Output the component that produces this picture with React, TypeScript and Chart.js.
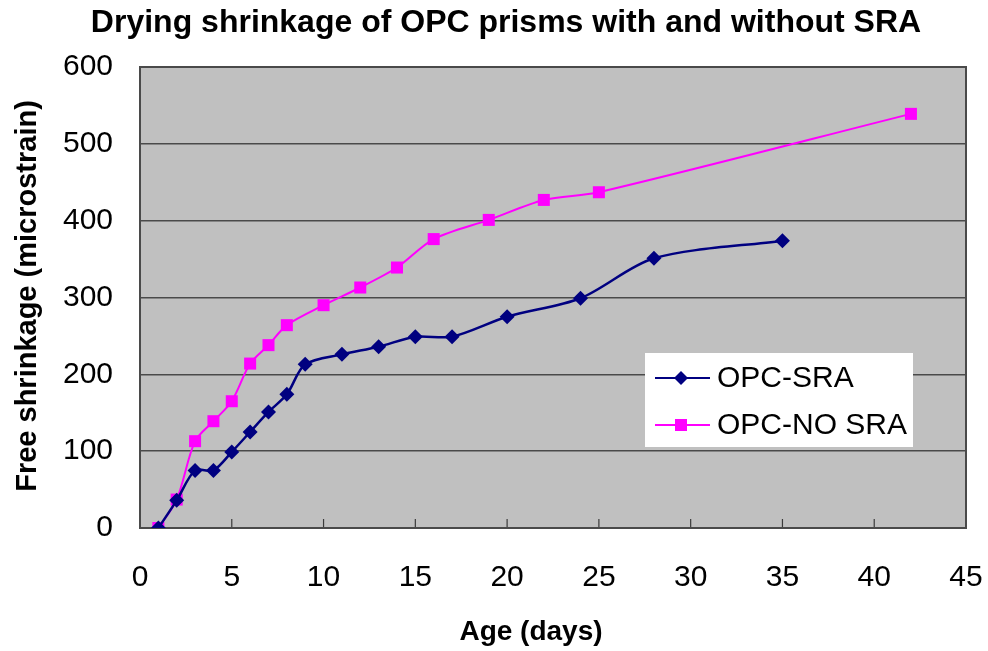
import React, { useEffect, useRef } from "react";
import { Chart, registerables } from "chart.js";

Chart.register(...registerables);

const sraDays = [1, 2, 3, 4, 5, 6, 7, 8, 9, 11, 13, 15, 17, 20, 24, 28, 35];
const sraValues = [0, 36, 75, 75, 99, 125, 151, 174, 213, 226, 236, 249, 249, 275, 299, 351, 374];

const noSraDays = [1, 2, 3, 4, 5, 6, 7, 8, 10, 12, 14, 16, 19, 22, 25, 42];
const noSraValues = [0, 37, 113, 139, 165, 214, 238, 264, 290, 313, 339, 376, 401, 427, 437, 539];

const xTicks = [0, 5, 10, 15, 20, 25, 30, 35, 40, 45];
const yTicks = [0, 100, 200, 300, 400, 500, 600];

const seriesNames = ["OPC-SRA", "OPC-NO SRA"];
const titleText = "Drying shrinkage of OPC prisms with and without SRA";
const xTitle = "Age (days)";
const yTitle = "Free shrinkage (microstrain)";

const NAVY = "#000080";
const MAGENTA = "#FF00FF";
const FONT = "'Liberation Sans', Arial, sans-serif";

const decorPlugin = {
  id: "decor",
  beforeDatasetsDraw(chart: any) {
    const { ctx, chartArea: a, scales } = chart;
    ctx.save();
    ctx.strokeStyle = "#3a3a3a";
    ctx.lineWidth = 1.2;
    xTicks.forEach((t) => {
      const x = scales.x.getPixelForValue(t);
      ctx.beginPath();
      ctx.moveTo(x, a.bottom);
      ctx.lineTo(x, a.bottom - 9);
      ctx.stroke();
    });
    ctx.strokeStyle = "#4a4a4a";
    ctx.lineWidth = 2;
    ctx.strokeRect(a.left, a.top, a.right - a.left, a.bottom - a.top);
    ctx.restore();
  },
  afterDraw(chart: any) {
    const { ctx } = chart;
    ctx.save();
    ctx.fillStyle = "#000";
    ctx.textAlign = "center";
    ctx.textBaseline = "middle";
    ctx.font = `bold 32px ${FONT}`;
    ctx.fillText(titleText, 506, 23);
    ctx.font = `bold 28px ${FONT}`;
    ctx.fillText(xTitle, 531, 632);
    ctx.save();
    ctx.translate(28, 296);
    ctx.rotate(-Math.PI / 2);
    ctx.font = `bold 29px ${FONT}`;
    ctx.fillText(yTitle, 0, 0);
    ctx.restore();

    // legend
    const lx = 645, ly = 353, lw = 268, lh = 94;
    ctx.fillStyle = "#fff";
    ctx.fillRect(lx, ly, lw, lh);
    const rows = [
      { name: seriesNames[0], color: NAVY, y: 378, shape: "diamond" },
      { name: seriesNames[1], color: MAGENTA, y: 425, shape: "square" },
    ];
    rows.forEach((r) => {
      ctx.strokeStyle = r.color;
      ctx.lineWidth = 2;
      ctx.beginPath();
      ctx.moveTo(655, r.y);
      ctx.lineTo(710, r.y);
      ctx.stroke();
      ctx.fillStyle = r.color;
      ctx.beginPath();
      if (r.shape === "diamond") {
        ctx.moveTo(681, r.y - 7);
        ctx.lineTo(688, r.y);
        ctx.lineTo(681, r.y + 7);
        ctx.lineTo(674, r.y);
        ctx.closePath();
      } else {
        ctx.rect(675, r.y - 6, 12, 12);
      }
      ctx.fill();
      ctx.fillStyle = "#000";
      ctx.textAlign = "left";
      ctx.font = `30px ${FONT}`;
      ctx.fillText(r.name, 717, r.y + 1);
    });
    ctx.restore();
  },
};

const bgPlugin = {
  id: "plotbg",
  beforeDraw(chart: any) {
    const { ctx, chartArea: a } = chart;
    ctx.save();
    ctx.fillStyle = "#ffffff";
    ctx.fillRect(0, 0, chart.width, chart.height);
    ctx.fillStyle = "#C0C0C0";
    ctx.fillRect(a.left, a.top, a.right - a.left, a.bottom - a.top);
    ctx.restore();
  },
};

export default function App() {
  const ref = useRef<HTMLCanvasElement | null>(null);
  useEffect(() => {
    document.body.style.margin = "0";
    const canvas = ref.current;
    if (!canvas) return;
    const chart = new Chart(canvas, {
      type: "line",
      data: {
        datasets: [
          {
            label: seriesNames[0],
            data: sraDays.map((d, i) => ({ x: d, y: sraValues[i] })),
            borderColor: NAVY,
            backgroundColor: NAVY,
            borderWidth: 2.5,
            pointStyle: "rectRot",
            pointRadius: 7.5,
            pointBorderWidth: 0,
            tension: 0.3,
            order: 1,
          },
          {
            label: seriesNames[1],
            data: noSraDays.map((d, i) => ({ x: d, y: noSraValues[i] })),
            borderColor: MAGENTA,
            backgroundColor: MAGENTA,
            borderWidth: 2,
            pointStyle: "rect",
            pointRadius: 8.5,
            pointBorderWidth: 0,
            tension: 0.3,
            order: 2,
          },
        ],
      },
      options: {
        responsive: false,
        animation: false,
        layout: { padding: { top: 67, right: 22, left: 0, bottom: 0 } },
        plugins: {
          legend: { display: false },
          title: { display: false },
          tooltip: { enabled: false },
        },
        scales: {
          x: {
            type: "linear",
            min: 0,
            max: 45,
            afterBuildTicks: (s: any) => {
              s.ticks = xTicks.map((v) => ({ value: v }));
            },
            afterFit: (s: any) => {
              s.height = 651 - 528;
              s.paddingLeft = 0;
              s.paddingRight = 0;
            },
            grid: { display: false, drawTicks: false },
            border: { display: false },
            ticks: {
              color: "#000",
              font: { family: FONT, size: 30 },
              padding: 32,
              maxRotation: 0,
            },
          },
          y: {
            type: "linear",
            min: 0,
            max: 600,
            afterBuildTicks: (s: any) => {
              s.ticks = yTicks.map((v) => ({ value: v }));
            },
            afterFit: (s: any) => {
              s.width = 140;
              s.paddingTop = 0;
              s.paddingBottom = 0;
            },
            grid: { color: "#4a4a4a", lineWidth: 1.5, drawTicks: false },
            border: { display: false },
            ticks: {
              color: "#000",
              font: { family: FONT, size: 30 },
              padding: 27,
            },
          },
        },
      },
      plugins: [bgPlugin, decorPlugin],
    } as any);
    return () => chart.destroy();
  }, []);
  return (
    <canvas
      ref={ref}
      width={988}
      height={651}
      style={{ display: "block", width: 988, height: 651 }}
    />
  );
}
